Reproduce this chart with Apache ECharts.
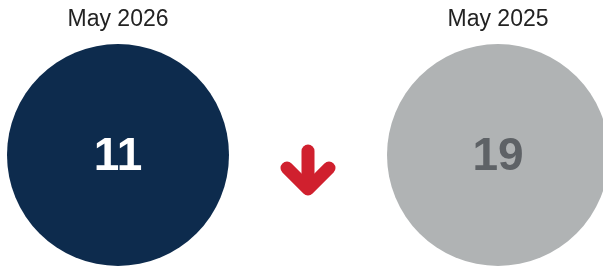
<!DOCTYPE html>
<html>
<head>
<meta charset="UTF-8" />
<script src="https://cdn.jsdelivr.net/npm/echarts@6/dist/echarts.min.js"></script>
<style type="text/css">
    *{
        margin: 0;
        padding: 0;
    }
    #main{
        width: 603px;
        height: 267px;
        background: #fff;
    }
</style>
</head>
<body>
<div id="main"></div>
<script type="text/javascript">
    // 数据
    var periods = ['May 2026', 'May 2025'];
    var counts = [11, 19];
    var circleColors = ['#0d2b4d', '#b0b3b4'];
    var numberColors = ['#ffffff', '#5e6266'];

    var chart = echarts.init(document.getElementById('main'));
    var font = '"Liberation Sans", Arial, sans-serif';

    var circleData = [
        { value: [0, 0, counts[0]], itemStyle: { color: circleColors[0] }, label: { color: numberColors[0] } },
        { value: [2, 0, counts[1]], itemStyle: { color: circleColors[1] }, label: { color: numberColors[1] } }
    ];

    var option = {
        animation: false,
        grid: { left: 23, right: 10, top: 43, bottom: 0 },
        xAxis: {
            type: 'category',
            position: 'top',
            data: [periods[0], '', periods[1]],
            axisLine: { show: false },
            axisTick: { show: false },
            axisLabel: {
                margin: 12,
                fontFamily: font,
                fontSize: 23,
                color: '#222'
            }
        },
        yAxis: { type: 'value', min: -1, max: 1, show: false },
        series: [{
            type: 'scatter',
            symbol: 'circle',
            symbolSize: 222,
            data: circleData,
            itemStyle: { opacity: 1 },
            emphasis: { disabled: true },
            label: {
                show: true,
                position: 'inside',
                offset: [0, 2],
                fontFamily: font,
                fontWeight: 'bold',
                fontSize: 46,
                formatter: function (p) { return p.value[2]; }
            }
        }, {
            // 下降箭头
            type: 'custom',
            data: [[1, 0]],
            renderItem: function (params, api) {
                var c = api.coord([api.value(0), api.value(1)]);
                var x = c[0], y = c[1] + 15;
                var style = { stroke: '#d0202e', lineWidth: 13, lineCap: 'round', lineJoin: 'round', fill: null };
                return {
                    type: 'group',
                    children: [
                        { type: 'line', shape: { x1: x, y1: y - 19, x2: x, y2: y + 18 }, style: style },
                        { type: 'polyline', shape: { points: [[x - 21, y - 2], [x, y + 19], [x + 21, y - 2]] }, style: style }
                    ]
                };
            }
        }]
    };
    chart.setOption(option);
</script>
</body>
</html>
